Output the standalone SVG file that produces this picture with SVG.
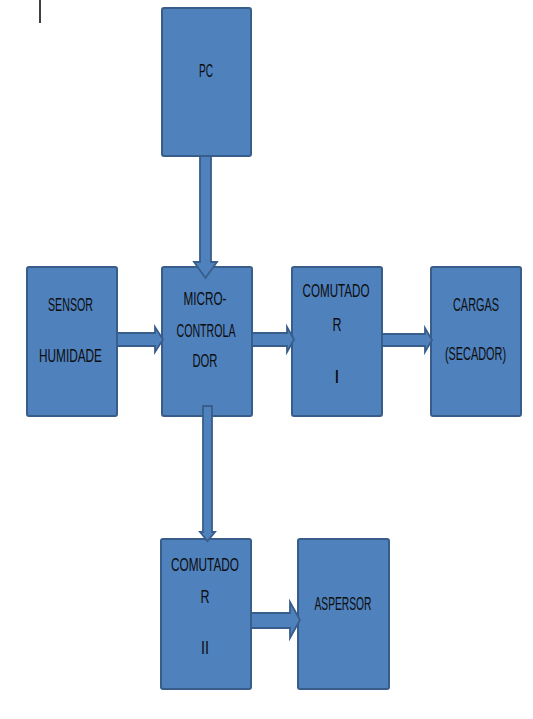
<svg xmlns="http://www.w3.org/2000/svg" width="533" height="719" viewBox="0 0 533 719">
<style>
.box{fill:#4F81BD;stroke:#385D8A;stroke-width:2}
.arr{fill:#4F81BD;stroke:#385D8A;stroke-width:1.8;stroke-linejoin:miter}
text{font-family:"Liberation Sans",Arial,sans-serif;font-size:19px;fill:#0d0d0d;text-anchor:middle}
</style>
<rect width="533" height="719" fill="#fff"/>
<line x1="40" y1="0" x2="40" y2="23" stroke="#000" stroke-width="1.5"/>
<g id="pc">
<rect class="box" x="162" y="8" width="89" height="148" rx="2"/>
<text x="206" y="77" textLength="14" lengthAdjust="spacingAndGlyphs">PC</text>
</g>
<g id="sensor">
<rect class="box" x="27" y="267" width="90" height="149" rx="2"/>
<text x="70.5" y="311" textLength="45" lengthAdjust="spacingAndGlyphs">SENSOR</text>
<text x="70.5" y="362" textLength="63" lengthAdjust="spacingAndGlyphs">HUMIDADE</text>
</g>
<g id="micro">
<rect class="box" x="162" y="267" width="90" height="149" rx="2"/>
<text x="205" y="305" textLength="43" lengthAdjust="spacingAndGlyphs">MICRO-</text>
<text x="206" y="337" textLength="59" lengthAdjust="spacingAndGlyphs">CONTROLA</text>
<text x="205" y="367" textLength="25" lengthAdjust="spacingAndGlyphs">DOR</text>
</g>
<g id="comutador1">
<rect class="box" x="292" y="267" width="90" height="149" rx="2"/>
<text x="336" y="297" textLength="67" lengthAdjust="spacingAndGlyphs">COMUTADO</text>
<text x="337" y="331" textLength="9" lengthAdjust="spacingAndGlyphs">R</text>
<text x="337" y="383">I</text>
</g>
<g id="cargas">
<rect class="box" x="431" y="267" width="90" height="149" rx="2"/>
<text x="476" y="311" textLength="46" lengthAdjust="spacingAndGlyphs">CARGAS</text>
<text transform="translate(475.5,360) scale(0.575,1)" x="0" y="0">(SECADOR)</text>
</g>
<g id="comutador2">
<rect class="box" x="161" y="539" width="90" height="150" rx="2"/>
<text x="205" y="571" textLength="68" lengthAdjust="spacingAndGlyphs">COMUTADO</text>
<text x="205" y="603" textLength="9" lengthAdjust="spacingAndGlyphs">R</text>
<text x="205" y="654" textLength="8" lengthAdjust="spacingAndGlyphs">II</text>
</g>
<g id="aspersor">
<rect class="box" x="298" y="539" width="91" height="150" rx="2"/>
<text x="343" y="610" textLength="57" lengthAdjust="spacingAndGlyphs">ASPERSOR</text>
</g>
<g id="connectors">
<polygon class="arr" points="200,156 211,156 211,262 217,262 205.5,278 194,262 200,262"/>
<polygon class="arr" points="117,333 155,333 155,327 163,339.5 155,352 155,346 117,346"/>
<polygon class="arr" points="252,333 287,333 287,327 294,339.5 287,352 287,346 252,346"/>
<polygon class="arr" points="382,334 425,334 425,328 432,340 425,352 425,346 382,346"/>
<polygon class="arr" points="203,406 212,406 212,532 215,532 207.5,541 200,532 203,532"/>
<polygon class="arr" points="251,613 290,613 290,602 300,620 290,638 290,628 251,628"/>
</g>
</svg>
